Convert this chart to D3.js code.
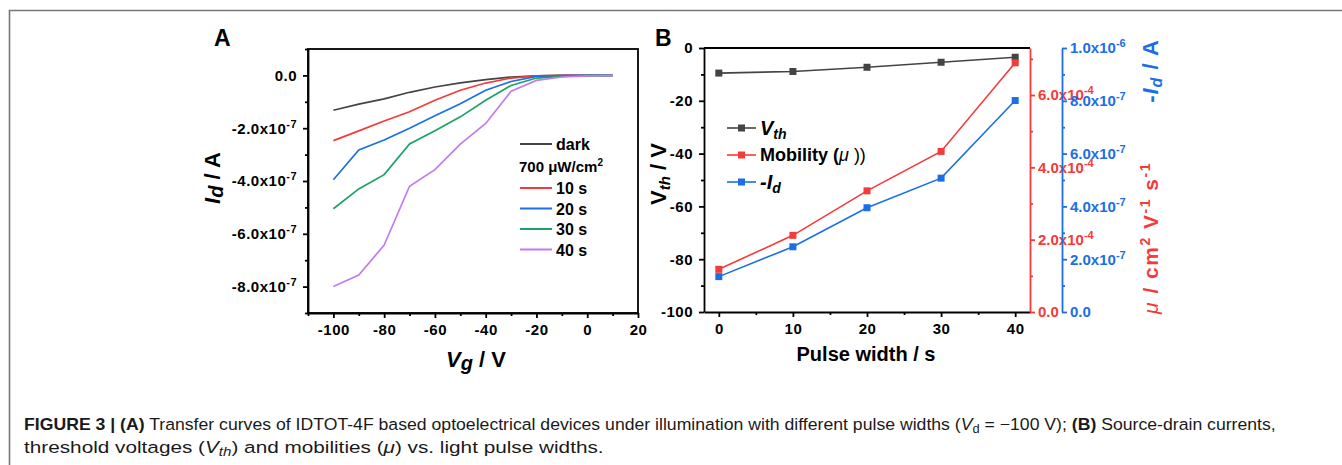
<!DOCTYPE html>
<html>
<head>
<meta charset="utf-8">
<script src="https://cdn.jsdelivr.net/npm/d3@7"></script>
<style>
  body { margin: 0; background: #fff; }
  svg { display: block; font-family: "Liberation Sans", Arial, sans-serif; }
</style>
</head>
<body>
<div id="container"></div>
<script>
// ---- data ----
let vg = [-100, -90, -80, -70, -60, -50, -40, -30, -20, -10, 0, 10]
let idDark = [-1.32e-7, -1.09e-7, -0.89e-7, -0.64e-7, -0.44e-7, -0.28e-7, -0.16e-7, -0.06e-7, -0.02e-7, 0, 0, 0]
let id10 = [-2.47e-7, -2.1e-7, -1.73e-7, -1.38e-7, -0.94e-7, -0.56e-7, -0.29e-7, -0.1e-7, -0.02e-7, 0, 0, 0]
let id20 = [-3.95e-7, -2.82e-7, -2.45e-7, -2.0e-7, -1.53e-7, -1.07e-7, -0.56e-7, -0.23e-7, -0.04e-7, -0.01e-7, 0, 0]
let id30 = [-5.05e-7, -4.3e-7, -3.76e-7, -2.6e-7, -2.1e-7, -1.57e-7, -0.94e-7, -0.38e-7, -0.1e-7, -0.04e-7, -0.01e-7, 0]
let id40 = [-8.0e-7, -7.56e-7, -6.43e-7, -4.2e-7, -3.57e-7, -2.6e-7, -1.82e-7, -0.6e-7, -0.19e-7, -0.06e-7, -0.02e-7, 0]
let seriesNamesA = ['dark', '10 s', '20 s', '30 s', '40 s']

let pulse = [0, 10, 20, 30, 40]
let vth = [-9.5, -8.9, -7.3, -5.4, -3.5]
let mobility = [1.18e-4, 2.12e-4, 3.35e-4, 4.44e-4, 6.89e-4]
let idPulse = [1.34e-7, 2.47e-7, 3.95e-7, 5.07e-7, 8.01e-7]

let ticksA_x = [-100, -80, -60, -40, -20, 0, 20]
let ticksA_y = [0, -2e-7, -4e-7, -6e-7, -8e-7]
let ticksB_x = [0, 10, 20, 30, 40]
let ticksB_y = [0, -20, -40, -60, -80, -100]
let ticksB_mu = [0, 2e-4, 4e-4, 6e-4]
let ticksB_id = [0, 2e-7, 4e-7, 6e-7, 8e-7, 1e-6]

// ---- layout ----
let W = 1342, H = 465
let A = { left: 308, top: 49, right: 638, bottom: 313 }
let B = { left: 704, top: 48, right: 1030, bottom: 312 }
let colors = { dark: '#444', red: '#f53a3a', blue: '#1a6fe6', green: '#1ba266', purple: '#c27bf0' }
let colA = [colors.dark, colors.red, colors.blue, colors.green, colors.purple]

let svg = d3.select('#container').append('svg')
  .attr('width', W).attr('height', H)

// frame
svg.append('path')
  .attr('d', 'M9.5,' + H + 'V10.5H' + W)
  .attr('fill', 'none').attr('stroke', '#777').attr('stroke-width', 1.6)

// helper: tick label with superscript exponent
function sciLabel(sel, v, exp) {
  sel.text(null)
  if (v === 0) { sel.text('0.0'); return }
  let m = (v / Math.pow(10, exp)).toFixed(1)
  sel.append('tspan').text(m + 'x10')
  sel.append('tspan').attr('dy', -6).attr('font-size', '11px').text(String(exp))
}

function styleAxis(g, color) {
  g.selectAll('path, line').attr('stroke', color).attr('stroke-width', 1.8)
  g.selectAll('text').attr('fill', color).attr('font-size', '15px').attr('font-weight', 'bold')
    .attr('letter-spacing', '0.5px')
    .attr('font-family', '"Liberation Sans", Arial, sans-serif')
}

function minorAxis(g, axisFn, scale, vals, color) {
  let m = g.append('g').call(axisFn(scale).tickValues(vals).tickSize(3).tickFormat(''))
  m.select('.domain').remove()
  m.selectAll('line').attr('stroke', color).attr('stroke-width', 1.8)
}

// ================= Panel A =================
let xA = d3.scaleLinear().domain([-110, 20]).range([A.left, A.right])
let yA = d3.scaleLinear().domain([-9e-7, 1e-7]).range([A.bottom, A.top])

let gxA = svg.append('g').attr('transform', 'translate(0,' + A.bottom + ')')
  .call(d3.axisBottom(xA).tickValues(ticksA_x).tickSize(5).tickSizeOuter(0).tickPadding(6).tickFormat(d3.format('d')))
styleAxis(gxA, '#000')
gxA.selectAll('text').text(d => d < 0 ? '-' + Math.abs(d) : d)
minorAxis(gxA, d3.axisBottom, xA, d3.range(-110, 20, 10).filter(d => d % 20 !== 0), '#000')

let gyA = svg.append('g').attr('transform', 'translate(' + A.left + ',0)')
  .call(d3.axisLeft(yA).tickValues(ticksA_y).tickSize(5).tickSizeOuter(0).tickPadding(6))
styleAxis(gyA, '#000')
gyA.selectAll('.tick text').each(function (d) { sciLabel(d3.select(this), d, -7) })
minorAxis(gyA, d3.axisLeft, yA, [-9e-7, -7e-7, -5e-7, -3e-7, -1e-7, 1e-7], '#000')

svg.append('rect')
  .attr('x', A.left).attr('y', A.top)
  .attr('width', A.right - A.left).attr('height', A.bottom - A.top)
  .attr('fill', 'none').attr('stroke', '#000').attr('stroke-width', 1.8)

let lineA = d3.line().x((d, i) => xA(vg[i])).y(d => yA(d))
let seriesA = [idDark, id10, id20, id30, id40]
svg.append('g').selectAll('path').data(seriesA).enter().append('path')
  .attr('d', lineA)
  .attr('fill', 'none')
  .attr('stroke', (d, i) => colA[i])
  .attr('stroke-width', 1.7)

// legend A
let legA = svg.append('g').attr('font-weight', 'bold').attr('font-size', '16px')
let legRowsA = [144, 188, 208.5, 229, 249.5]
seriesNamesA.forEach(function (name, i) {
  legA.append('line').attr('x1', 520).attr('x2', 552).attr('y1', legRowsA[i]).attr('y2', legRowsA[i])
    .attr('stroke', colA[i]).attr('stroke-width', 2)
  legA.append('text').attr('x', 556).attr('y', legRowsA[i] + 6).text(name)
})
let powerTxt = legA.append('text').attr('x', 519).attr('y', 172).attr('font-size', '15px')
powerTxt.append('tspan').text('700 \u03bcW/cm')
powerTxt.append('tspan').attr('dy', -6).attr('font-size', '10px').text('2')

// titles A
svg.append('text').attr('x', 214).attr('y', 46).attr('font-size', '23px').attr('font-weight', 'bold').text('A')
let ytA = svg.append('text').attr('transform', 'translate(220,178) rotate(-90)')
  .attr('text-anchor', 'middle').attr('font-size', '22px').attr('font-weight', 'bold')
ytA.append('tspan').attr('font-style', 'italic').text('I')
ytA.append('tspan').attr('font-style', 'italic').attr('font-size', '20px').attr('dy', 3).text('d')
ytA.append('tspan').attr('dy', -3).text(' / A')
let xtA = svg.append('text').attr('x', 476).attr('y', 367)
  .attr('text-anchor', 'middle').attr('font-size', '22px').attr('font-weight', 'bold')
xtA.append('tspan').attr('font-style', 'italic').text('V')
xtA.append('tspan').attr('font-style', 'italic').attr('font-size', '20px').attr('dy', 3).text('g')
xtA.append('tspan').attr('dy', -3).text(' / V')

// ================= Panel B =================
let xB = d3.scaleLinear().domain([-2, 42]).range([B.left, B.right])
let yB = d3.scaleLinear().domain([-100, 0]).range([B.bottom, B.top])
let muB = d3.scaleLinear().domain([0, 7.3e-4]).range([B.bottom, B.top])
let idB = d3.scaleLinear().domain([0, 1e-6]).range([B.bottom, B.top])

// top border
svg.append('line').attr('x1', B.left).attr('x2', B.right).attr('y1', B.top).attr('y2', B.top)
  .attr('stroke', '#000').attr('stroke-width', 1.8)

let gxB = svg.append('g').attr('transform', 'translate(0,' + B.bottom + ')')
  .call(d3.axisBottom(xB).tickValues(ticksB_x).tickSize(5).tickSizeOuter(0).tickPadding(6))
styleAxis(gxB, '#000')
minorAxis(gxB, d3.axisBottom, xB, [5, 15, 25, 35], '#000')

let gyB = svg.append('g').attr('transform', 'translate(' + B.left + ',0)')
  .call(d3.axisLeft(yB).tickValues(ticksB_y).tickSize(5).tickSizeOuter(0).tickPadding(6))
styleAxis(gyB, '#000')
gyB.selectAll('.tick text').text(d => d < 0 ? '-' + Math.abs(d) : d)
minorAxis(gyB, d3.axisLeft, yB, [-90, -70, -50, -30, -10], '#000')

let gmu = svg.append('g').attr('transform', 'translate(' + B.right + ',0)')
  .call(d3.axisRight(muB).tickValues(ticksB_mu).tickSize(5).tickSizeOuter(0).tickPadding(3))
styleAxis(gmu, colors.red)
gmu.selectAll('text').attr('letter-spacing', '0px')
gmu.selectAll('.tick text').each(function (d) { sciLabel(d3.select(this), d, -4) })
minorAxis(gmu, d3.axisRight, muB, [1e-4, 3e-4, 5e-4, 7e-4], colors.red)

let bluePos = B.right + 32
let gid = svg.append('g').attr('transform', 'translate(' + bluePos + ',0)')
  .call(d3.axisRight(idB).tickValues(ticksB_id).tickSize(5).tickSizeOuter(0).tickPadding(3))
styleAxis(gid, colors.blue)
gid.selectAll('text').attr('letter-spacing', '0px')
gid.selectAll('.tick text').each(function (d) { sciLabel(d3.select(this), d, d >= 1e-6 ? -6 : -7) })
minorAxis(gid, d3.axisRight, idB, [1e-7, 3e-7, 5e-7, 7e-7, 9e-7], colors.blue)

function drawSeries(vals, yScale, color) {
  let g = svg.append('g')
  g.append('path').datum(vals)
    .attr('d', d3.line().x((d, i) => xB(pulse[i])).y(d => yScale(d)))
    .attr('fill', 'none').attr('stroke', color).attr('stroke-width', 1.6)
  g.selectAll('rect').data(vals).enter().append('rect')
    .attr('x', (d, i) => xB(pulse[i]) - 3.5).attr('y', d => yScale(d) - 3.5)
    .attr('width', 7).attr('height', 7).attr('fill', color)
}
drawSeries(vth, yB, colors.dark)
drawSeries(mobility, muB, colors.red)
drawSeries(idPulse, idB, colors.blue)

// legend B
let legB = svg.append('g').attr('font-weight', 'bold')
let legRowsB = [128, 155, 182]
let colB = [colors.dark, colors.red, colors.blue]
legRowsB.forEach(function (y, i) {
  legB.append('line').attr('x1', 727).attr('x2', 756).attr('y1', y).attr('y2', y)
    .attr('stroke', colB[i]).attr('stroke-width', 1.6)
  legB.append('rect').attr('x', 738).attr('y', y - 3.5).attr('width', 7).attr('height', 7).attr('fill', colB[i])
})
let lb1 = legB.append('text').attr('x', 760).attr('y', 135).attr('font-size', '20px').attr('font-style', 'italic')
lb1.append('tspan').text('V')
lb1.append('tspan').attr('font-size', '14px').attr('dy', 4).text('th')
let lb2 = legB.append('text').attr('x', 760).attr('y', 161).attr('font-size', '18px')
lb2.append('tspan').text('Mobility (')
lb2.append('tspan').attr('font-style', 'italic').attr('font-weight', 'normal').text('\u03bc')
lb2.append('tspan').attr('font-weight', 'normal').text(' ))')
let lb3 = legB.append('text').attr('x', 760).attr('y', 189).attr('font-size', '20px').attr('font-style', 'italic')
lb3.append('tspan').text('-I')
lb3.append('tspan').attr('font-size', '14px').attr('dy', 4).text('d')

// titles B
svg.append('text').attr('x', 655).attr('y', 46).attr('font-size', '23px').attr('font-weight', 'bold').text('B')
let ytB = svg.append('text').attr('transform', 'translate(666,174) rotate(-90)')
  .attr('text-anchor', 'middle').attr('font-size', '22px').attr('font-weight', 'bold')
ytB.append('tspan').text('V')
ytB.append('tspan').attr('font-size', '15px').attr('font-style', 'italic').attr('dy', 4).text('th')
ytB.append('tspan').attr('dy', -4).text(' / V')
svg.append('text').attr('x', 866).attr('y', 361).attr('text-anchor', 'middle')
  .attr('font-size', '20px').attr('font-weight', 'bold').text('Pulse width / s')

let ytId = svg.append('text').attr('transform', 'translate(1158,71) rotate(-90)')
  .attr('text-anchor', 'middle').attr('font-size', '22px').attr('font-weight', 'bold')
  .attr('letter-spacing', '1px').attr('fill', colors.blue)
ytId.append('tspan').text('-')
ytId.append('tspan').attr('font-style', 'italic').text('I')
ytId.append('tspan').attr('font-style', 'italic').attr('font-size', '16px').attr('dy', 4).text('d')
ytId.append('tspan').attr('dy', -4).text(' / A')

let ytMu = svg.append('text').attr('transform', 'translate(1158,238) rotate(-90)')
  .attr('text-anchor', 'middle').attr('font-size', '21px').attr('font-weight', 'bold')
  .attr('letter-spacing', '1.5px').attr('fill', colors.red)
ytMu.append('tspan').attr('font-style', 'italic').attr('font-weight', 'normal').text('\u03bc')
ytMu.append('tspan').text(' / cm')
ytMu.append('tspan').attr('font-size', '14px').attr('dy', -8).text('2')
ytMu.append('tspan').attr('dy', 8).text(' V')
ytMu.append('tspan').attr('font-size', '14px').attr('dy', -8).text('-1')
ytMu.append('tspan').attr('dy', 8).text(' s')
ytMu.append('tspan').attr('font-size', '14px').attr('dy', -8).text('-1')

// ================= caption =================
function captionLine(y, parts, targetW) {
  let t = svg.append('text').attr('x', 0).attr('y', 0).attr('font-size', '16.5px').attr('fill', '#1a1a1a')
  parts.forEach(function (p) {
    let s = t.append('tspan').text(p.t)
    if (p.b) s.attr('font-weight', 'bold')
    if (p.i) s.attr('font-style', 'italic')
    if (p.dy) s.attr('dy', p.dy).attr('font-size', p.fs || '12px')
  })
  let w = t.node().getBBox().width
  t.attr('transform', 'translate(24,' + y + ') scale(' + (targetW / w) + ',1)')
}
captionLine(430, [
  { t: 'FIGURE 3 | (A)', b: true },
  { t: ' Transfer curves of IDTOT-4F based optoelectrical devices under illumination with different pulse widths (' },
  { t: 'V', i: true },
  { t: 'd', dy: 3 },
  { t: ' = \u2212100 V); ', dy: -3, fs: '16.5px' },
  { t: '(B)', b: true },
  { t: ' Source-drain currents,' }
], 1252)
captionLine(453, [
  { t: 'threshold voltages (' },
  { t: 'V', i: true },
  { t: 'th', i: true, dy: 3 },
  { t: ') and mobilities (', dy: -3, fs: '16.5px' },
  { t: '\u03bc', i: true },
  { t: ') vs. light pulse widths.' }
], 580)
</script>
</body>
</html>
